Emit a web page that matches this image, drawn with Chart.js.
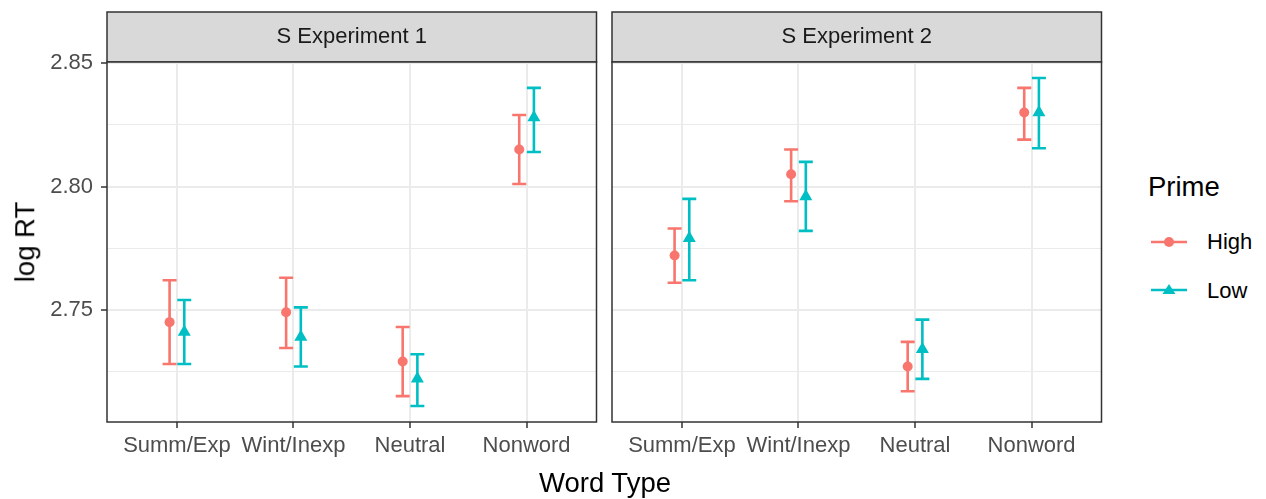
<!DOCTYPE html>
<html>
<head>
<meta charset="utf-8">
<script src="https://cdn.jsdelivr.net/npm/chart.js@4"></script>
<style>
  body { margin: 0; background: #fff; width: 1266px; height: 499px; overflow: hidden; position: relative;
         font-family: "Liberation Sans", Arial, sans-serif; }
  canvas { position: absolute; top: 0; }
  #c1 { left: 0; }
  #c2 { left: 600px; }
  .lbl { position: absolute; color: #000; white-space: nowrap; line-height: 1; }
  #ytitle { font-size: 27.5px; left: 25px; top: 242px; transform: translate(-50%, -50%) rotate(-90deg); }
  #xtitle { font-size: 27.5px; left: 605px; top: 483px; transform: translate(-50%, -50%); }
  #ltitle { font-size: 27.5px; left: 1148px; top: 187px; transform: translateY(-50%); }
  .key { position: absolute; left: 1150px; }
  .ktext { font-size: 22px; left: 1207px; transform: translateY(-50%); }
</style>
</head>
<body>
<canvas id="c1" width="604" height="499"></canvas>
<canvas id="c2" width="509" height="499"></canvas>

<div class="lbl" id="ytitle">log RT</div>
<div class="lbl" id="xtitle">Word Type</div>
<div class="lbl" id="ltitle">Prime</div>
<svg class="key" style="top:232px" width="40" height="20">
  <line x1="1" y1="10" x2="37" y2="10" stroke="#F8766D" stroke-width="2.5"/>
  <circle cx="19" cy="10" r="5" fill="#F8766D"/>
</svg>
<svg class="key" style="top:280px" width="40" height="20">
  <line x1="1" y1="10" x2="37" y2="10" stroke="#00BFC4" stroke-width="2.5"/>
  <polygon points="19,4 25.5,14 12.5,14" fill="#00BFC4"/>
</svg>
<div class="lbl ktext" style="top:242px">High</div>
<div class="lbl ktext" style="top:291px">Low</div>

<script>
const CATEGORIES = ["Summ/Exp", "Wint/Inexp", "Neutral", "Nonword"];
const Y_TICKS = [2.725, 2.75, 2.775, 2.80, 2.825, 2.85];
const Y_LABELED = [2.75, 2.80, 2.85];

// Experiment 1
const HIGH1 = [2.745, 2.749, 2.729, 2.815];
const HIGH1_LO = [2.728, 2.7345, 2.715, 2.801];
const HIGH1_HI = [2.762, 2.763, 2.743, 2.829];
const LOW1 = [2.741, 2.739, 2.722, 2.828];
const LOW1_LO = [2.728, 2.727, 2.711, 2.814];
const LOW1_HI = [2.754, 2.751, 2.732, 2.840];

// Experiment 2
const HIGH2 = [2.772, 2.805, 2.727, 2.830];
const HIGH2_LO = [2.761, 2.794, 2.717, 2.819];
const HIGH2_HI = [2.783, 2.815, 2.737, 2.840];
const LOW2 = [2.779, 2.796, 2.734, 2.830];
const LOW2_LO = [2.762, 2.782, 2.722, 2.8155];
const LOW2_HI = [2.795, 2.810, 2.746, 2.844];

const RED = "#F8766D";
const TEAL = "#00BFC4";
const DODGE = 0.063;
const CAP = 0.06;
const FONT = "'Liberation Sans', Arial, sans-serif";

function isMajor(v) {
    return Y_LABELED.some(m => Math.abs(m - v) < 1e-6);
}

// grey strip behind the title, panel border
const stripPlugin = {
    id: "strip",
    beforeDraw(chart) {
        const ctx = chart.ctx;
        const a = chart.chartArea;
        ctx.save();
        ctx.fillStyle = "#d9d9d9";
        ctx.strokeStyle = "#333333";
        ctx.lineWidth = 1.5;
        ctx.fillRect(a.left, 12, a.right - a.left, a.top - 12);
        ctx.strokeRect(a.left, 12, a.right - a.left, a.top - 12);
        ctx.restore();
    },
    afterDraw(chart) {
        const a = chart.chartArea;
        const ctx = chart.ctx;
        ctx.save();
        ctx.strokeStyle = "#333333";
        ctx.lineWidth = 1.5;
        ctx.strokeRect(a.left, a.top, a.right - a.left, a.bottom - a.top);
        ctx.restore();
    }
};

const errorBarPlugin = {
    id: "errorBars",
    beforeDatasetsDraw(chart) {
        const ctx = chart.ctx;
        const xs = chart.scales.x;
        const ys = chart.scales.y;
        ctx.save();
        chart.data.datasets.forEach(ds => {
            ctx.strokeStyle = ds.borderColor;
            ctx.lineWidth = 2.6;
            ds.data.forEach((p, i) => {
                const x = xs.getPixelForValue(p.x);
                const half = xs.getPixelForValue(p.x + CAP) - x;
                const yl = ys.getPixelForValue(ds.lo[i]);
                const yh = ys.getPixelForValue(ds.hi[i]);
                ctx.beginPath();
                ctx.moveTo(x, yl); ctx.lineTo(x, yh);
                ctx.moveTo(x - half, yl); ctx.lineTo(x + half, yl);
                ctx.moveTo(x - half, yh); ctx.lineTo(x + half, yh);
                ctx.stroke();
            });
        });
        ctx.restore();
    }
};

function points(values, shift) {
    return values.map((v, i) => ({ x: i + 1 + shift, y: v }));
}

function makePanel(id, title, high, highLo, highHi, low, lowLo, lowHi, showY) {
    new Chart(document.getElementById(id), {
        type: "scatter",
        data: {
            datasets: [
                { label: "High", data: points(high, -DODGE), lo: highLo, hi: highHi,
                  backgroundColor: RED, borderColor: RED, pointStyle: "circle", pointRadius: 5, pointBorderWidth: 0 },
                { label: "Low", data: points(low, DODGE), lo: lowLo, hi: lowHi,
                  backgroundColor: TEAL, borderColor: TEAL, pointStyle: "triangle", pointRadius: 7.5, pointBorderWidth: 0 }
            ]
        },
        options: {
            responsive: false,
            animation: false,
            layout: { padding: { top: 12, right: 3, left: showY ? 0 : 12, bottom: 0 } },
            plugins: {
                legend: { display: false },
                tooltip: { enabled: false },
                title: {
                    display: true, text: title, fullSize: false, color: "#1a1a1a",
                    font: { family: FONT, size: 22, weight: "normal" },
                    padding: { top: 12, bottom: 11.6 }
                }
            },
            scales: {
                x: {
                    type: "linear", min: 0.4, max: 4.6,
                    afterBuildTicks: s => { s.ticks = CATEGORIES.map((c, i) => ({ value: i + 1 })); },
                    afterFit: s => { s.height = 77; },
                    border: { display: false },
                    grid: { color: "#ebebeb", lineWidth: 2, tickColor: "#333333", tickWidth: 1.5, tickLength: 6 },
                    ticks: {
                        autoSkip: false, maxRotation: 0, padding: 5, color: "#4d4d4d",
                        font: { family: FONT, size: 22 },
                        callback: v => CATEGORIES[Math.round(v) - 1]
                    }
                },
                y: {
                    min: 2.7045, max: 2.8505,
                    afterBuildTicks: s => { s.ticks = Y_TICKS.map(v => ({ value: v })); },
                    afterFit: s => { s.width = showY ? 107 : 0; },
                    border: { display: false },
                    grid: {
                        color: "#ebebeb",
                        lineWidth: c => isMajor(c.tick.value) ? 2 : 1,
                        drawTicks: showY,
                        tickColor: c => isMajor(c.tick.value) ? "#333333" : "rgba(0,0,0,0)",
                        tickWidth: 1.5, tickLength: 6
                    },
                    ticks: {
                        display: showY, padding: 8, color: "#4d4d4d",
                        font: { family: FONT, size: 22 },
                        callback: v => isMajor(v) ? v.toFixed(2) : ""
                    }
                }
            }
        },
        plugins: [stripPlugin, errorBarPlugin]
    });
}

makePanel("c1", "S Experiment 1", HIGH1, HIGH1_LO, HIGH1_HI, LOW1, LOW1_LO, LOW1_HI, true);
makePanel("c2", "S Experiment 2", HIGH2, HIGH2_LO, HIGH2_HI, LOW2, LOW2_LO, LOW2_HI, false);
</script>
</body>
</html>
